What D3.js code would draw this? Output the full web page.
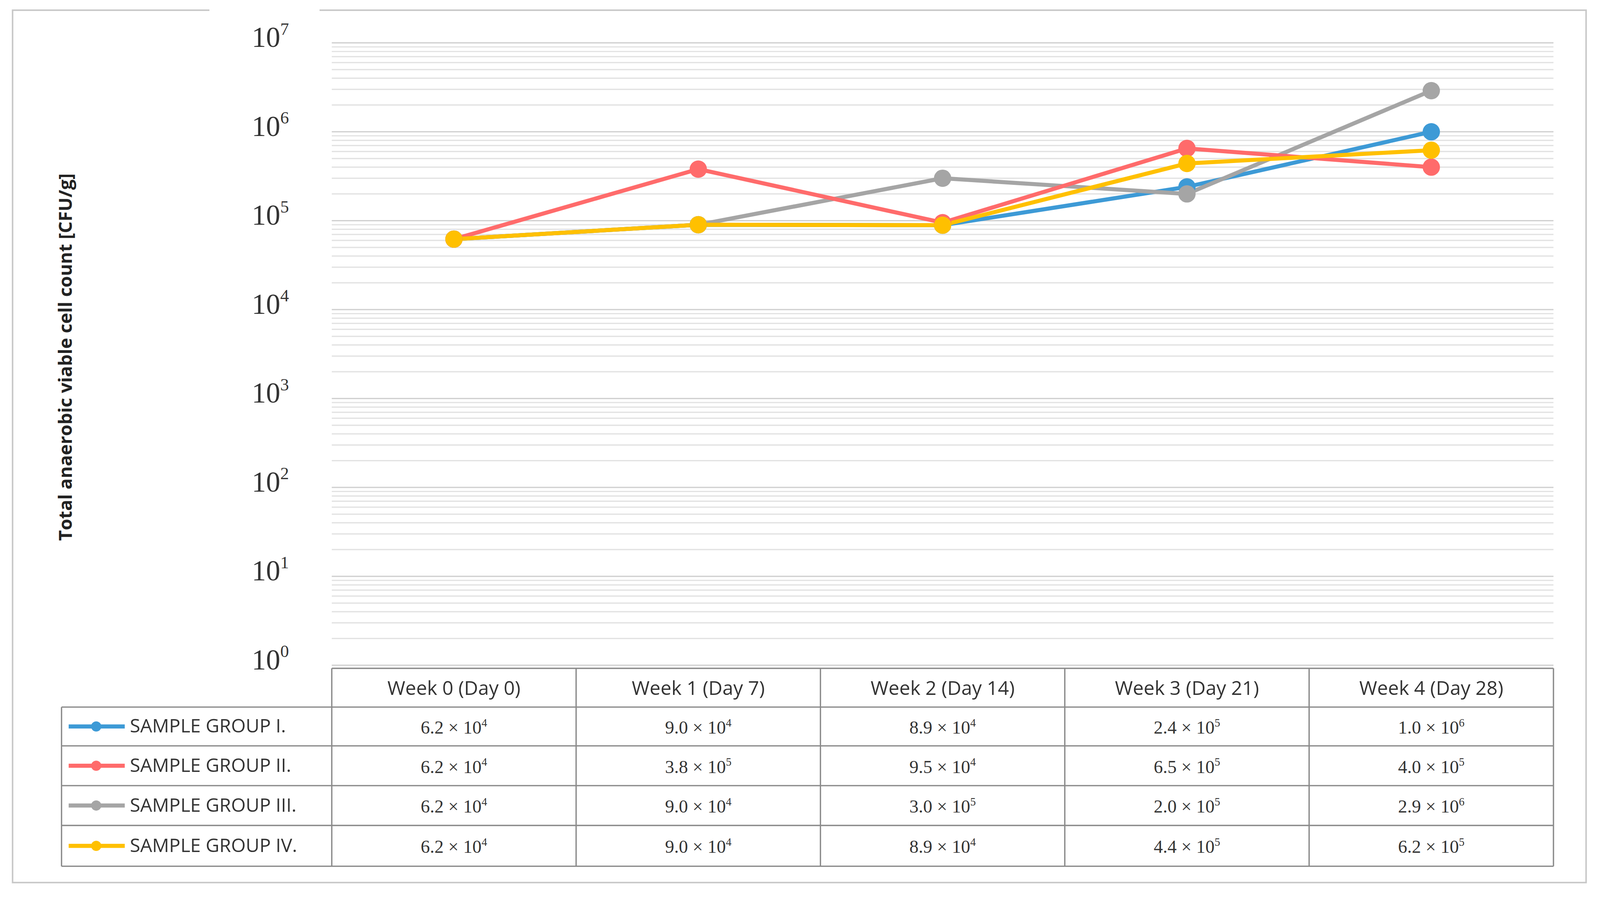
<!DOCTYPE html>
<html><head><meta charset="utf-8">
<script src="https://cdn.jsdelivr.net/npm/d3@7"></script>
<style>body{margin:0;background:#fff}</style></head>
<body><svg id="c"></svg>
<script>
const weeks = ["Week 0 (Day 0)","Week 1 (Day 7)","Week 2 (Day 14)","Week 3 (Day 21)","Week 4 (Day 28)"];
const groupNames = ["SAMPLE GROUP I.","SAMPLE GROUP II.","SAMPLE GROUP III.","SAMPLE GROUP IV."];
const groupColors = ["#3d9ad6","#ff6b6b","#a5a5a5","#ffc000"];
const group1 = [6.2e4, 9.0e4, 8.9e4, 2.4e5, 1.0e6];
const group2 = [6.2e4, 3.8e5, 9.5e4, 6.5e5, 4.0e5];
const group3 = [6.2e4, 9.0e4, 3.0e5, 2.0e5, 2.9e6];
const group4 = [6.2e4, 9.0e4, 8.9e4, 4.4e5, 6.2e5];
const series = [group1, group2, group3, group4];
const yTicks = [0,1,2,3,4,5,6,7];

const W=1584,H=886;
const svg=d3.select("#c").attr("width",4137).attr("height",2313).attr("viewBox",`0 0 ${W} ${H}`);
svg.append("rect").attr("x",12).attr("y",10).attr("width",1543).attr("height",855).attr("fill","none").attr("stroke","#c8c8c8").attr("stroke-width",1.5);
svg.append("rect").attr("x",205).attr("y",6).attr("width",108).attr("height",8).attr("fill","#fff");

const x0=325,x1=1523;
const x=d3.scaleBand().domain(weeks).range([x0,x1]);
const y=d3.scaleLog().domain([1,1e7]).range([652,42]);

const grid=[];
for(let k=0;k<7;k++) for(let m=1;m<=9;m++) grid.push(m*Math.pow(10,k));
grid.push(1e7);
svg.append("g").selectAll("line").data(grid).join("line")
 .attr("x1",x0).attr("x2",x1).attr("y1",d=>y(d)).attr("y2",d=>y(d))
 .attr("stroke",d=>Math.abs(Math.log10(d)%1)<1e-9?"#d0d0d0":"#e2e2e2").attr("stroke-width",1.2);

const yl=svg.append("g").attr("font-family","Liberation Serif").attr("fill","#333");
yTicks.forEach(k=>{
 const t=yl.append("text").attr("x",283).attr("y",y(Math.pow(10,k))+4).attr("text-anchor","end").attr("font-size",28);
 t.append("tspan").text("10");
 t.append("tspan").attr("dy",-12).attr("font-size",17).text(k);
});
svg.append("text").attr("transform","translate(70,350) rotate(-90)").attr("text-anchor","middle")
 .attr("font-family","Open Sans").attr("font-weight","bold").attr("font-size",18).attr("fill","#222")
 .text("Total anaerobic viable cell count [CFU/g]");

const line=d3.line().x((d,i)=>x(weeks[i])+x.bandwidth()/2).y(d=>y(d));
const order=[0,2,1,3];
order.forEach(g=>{
 svg.append("path").datum(series[g]).attr("d",line).attr("fill","none").attr("stroke",groupColors[g]).attr("stroke-width",4);
});
order.forEach(g=>{
 svg.append("g").selectAll("circle").data(series[g]).join("circle")
  .attr("cx",(d,i)=>x(weeks[i])+x.bandwidth()/2).attr("cy",d=>y(d)).attr("r",8.5).attr("fill",groupColors[g]);
});

const rowY=[655,693,731,770,809,849];
const tg=svg.append("g").attr("stroke","#8a8a8a").attr("stroke-width",1.3);
tg.append("line").attr("x1",x0).attr("x2",x1).attr("y1",rowY[0]).attr("y2",rowY[0]);
for(let r=1;r<rowY.length;r++) tg.append("line").attr("x1",60).attr("x2",x1).attr("y1",rowY[r]).attr("y2",rowY[r]);
weeks.forEach(w=>tg.append("line").attr("x1",x(w)).attr("x2",x(w)).attr("y1",rowY[0]).attr("y2",rowY[5]));
tg.append("line").attr("x1",x1).attr("x2",x1).attr("y1",rowY[0]).attr("y2",rowY[5]);
tg.append("line").attr("x1",60).attr("x2",60).attr("y1",rowY[1]).attr("y2",rowY[5]);

svg.append("g").selectAll("text").data(weeks).join("text")
 .attr("x",d=>x(d)+x.bandwidth()/2).attr("y",681).attr("text-anchor","middle")
 .attr("font-family","Open Sans").attr("font-size",19).attr("fill","#333").text(d=>d);

groupNames.forEach((n,g)=>{
 const cy=(rowY[g+1]+rowY[g+2])/2;
 svg.append("line").attr("x1",67).attr("x2",122).attr("y1",cy).attr("y2",cy).attr("stroke",groupColors[g]).attr("stroke-width",4);
 svg.append("circle").attr("cx",94).attr("cy",cy).attr("r",5).attr("fill",groupColors[g]);
 svg.append("text").attr("x",127).attr("y",cy+6).attr("font-family","Open Sans").attr("font-size",18.5).attr("fill","#333").text(n);
 series[g].forEach((v,i)=>{
  const e=Math.floor(Math.log10(v)+1e-9), m=(v/Math.pow(10,e)).toFixed(1);
  const t=svg.append("text").attr("x",x(weeks[i])+x.bandwidth()/2).attr("y",cy+7).attr("text-anchor","middle")
   .attr("font-family","Liberation Serif").attr("font-size",18).attr("fill","#333");
  t.append("tspan").text(m+" × 10");
  t.append("tspan").attr("dy",-7).attr("font-size",11).text(e);
 });
});
</script></body></html>
